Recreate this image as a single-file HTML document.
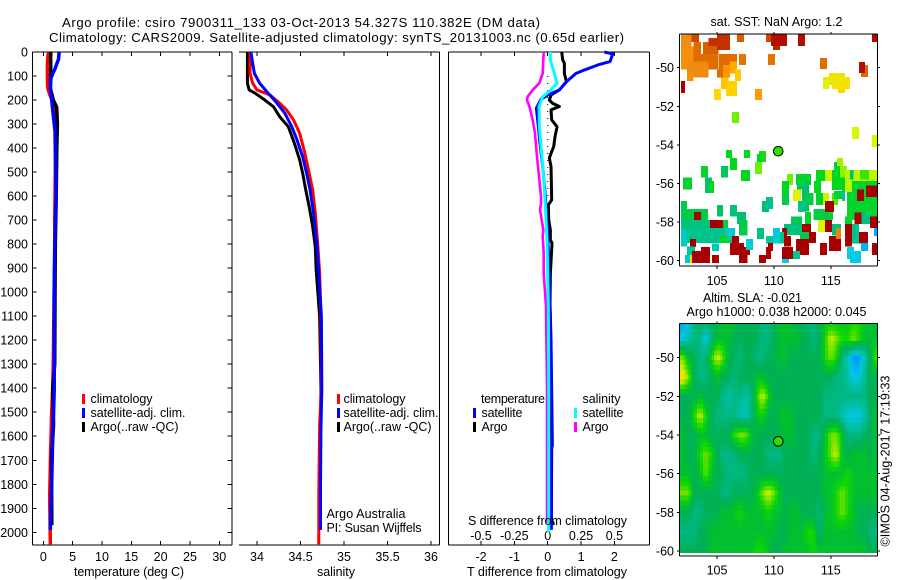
<!DOCTYPE html>
<html lang="en">
<head>
<meta charset="utf-8">
<title>Argo profile 7900311_133</title>
<style>
html,body{margin:0;padding:0;background:#fff;}
svg{display:block;}
text{font-family:"Liberation Sans",sans-serif;font-size:12.5px;fill:#000;}
text.big{font-size:13.2px;}
</style>
</head>
<body>
<svg id="chart" width="900" height="580" viewBox="0 0 900 580" xmlns="http://www.w3.org/2000/svg">
<rect x="0" y="0" width="900" height="580" fill="#fff"/>
<defs>
<clipPath id="clip-sst"><rect x="680" y="34" width="198" height="232"/></clipPath>
<clipPath id="clip-sla"><rect x="680" y="323" width="198" height="230"/></clipPath>
</defs>
<text class="big" x="62" y="27" textLength="478" lengthAdjust="spacing">Argo profile: csiro 7900311_133 03-Oct-2013 54.327S 110.382E (DM data)</text>
<text class="big" x="49" y="42" textLength="575" lengthAdjust="spacing">Climatology: CARS2009. Satellite-adjusted climatology: synTS_20131003.nc (0.65d earlier)</text>

<g id="layer-t"></g>
<g id="layer-s"></g>
<g id="layer-d"></g>
<g id="layer-sst"></g>
<g id="layer-sla"></g>

<text x="74" y="576" textLength="110" lengthAdjust="spacing">temperature (deg C)</text>
<text x="317" y="576" textLength="38" lengthAdjust="spacing">salinity</text>
<text x="467" y="576" textLength="160" lengthAdjust="spacing">T difference from climatology</text>
<text x="468" y="525" textLength="159" lengthAdjust="spacing">S difference from climatology</text>

<g>
<rect x="82" y="394" width="3" height="10" fill="#f00"/>
<text x="90.5" y="403" textLength="62" lengthAdjust="spacing">climatology</text>
<rect x="82" y="408" width="3" height="10" fill="#00f"/>
<text x="90.5" y="417" textLength="95" lengthAdjust="spacing">satellite-adj. clim.</text>
<rect x="82" y="422" width="3" height="10" fill="#000"/>
<text x="90.5" y="431" textLength="88" lengthAdjust="spacing">Argo(..raw -QC)</text>
</g>
<g>
<rect x="337" y="394" width="3" height="10" fill="#f00"/>
<text x="343.5" y="403" textLength="62" lengthAdjust="spacing">climatology</text>
<rect x="337" y="408" width="3" height="10" fill="#00f"/>
<text x="343.5" y="417" textLength="95" lengthAdjust="spacing">satellite-adj. clim.</text>
<rect x="337" y="422" width="3" height="10" fill="#000"/>
<text x="343.5" y="431" textLength="88" lengthAdjust="spacing">Argo(..raw -QC)</text>
</g>
<text x="326.5" y="518" textLength="79" lengthAdjust="spacing">Argo Australia</text>
<text x="326.5" y="532" textLength="95" lengthAdjust="spacing">PI: Susan Wijffels</text>

<g>
<text x="481" y="403" textLength="64" lengthAdjust="spacing">temperature</text>
<rect x="473" y="408" width="3" height="10" fill="#00f"/>
<text x="481.5" y="417" textLength="41" lengthAdjust="spacing">satellite</text>
<rect x="473" y="422" width="3" height="10" fill="#000"/>
<text x="481.5" y="431" textLength="26" lengthAdjust="spacing">Argo</text>
<text x="582.5" y="403" textLength="38" lengthAdjust="spacing">salinity</text>
<rect x="574" y="408" width="3" height="10" fill="#0ff"/>
<text x="582.5" y="417" textLength="41" lengthAdjust="spacing">satellite</text>
<rect x="574" y="422" width="3" height="10" fill="#f0f"/>
<text x="582.5" y="431" textLength="26" lengthAdjust="spacing">Argo</text>
</g>

<text x="710.5" y="26" textLength="132" lengthAdjust="spacing">sat. SST: NaN Argo: 1.2</text>
<text x="703" y="302" textLength="99" lengthAdjust="spacing">Altim. SLA: -0.021</text>
<text x="686.5" y="316" textLength="180" lengthAdjust="spacing">Argo h1000: 0.038 h2000: 0.045</text>
<text transform="translate(889.5 546.5) rotate(-90)" textLength="171" lengthAdjust="spacing">©IMOS 04-Aug-2017 17:19:33</text>
</svg>

<script>
// ---- axis tick values ----
const depthTicks = [0,100,200,300,400,500,600,700,800,900,1000,1100,1200,1300,1400,1500,1600,1700,1800,1900,2000];
const tempTicks = [0,5,10,15,20,25,30];
const salTicks = [34,34.5,35,35.5,36];
const salTickLabels = ['34','34.5','35','35.5','36'];
const tDiffTicks = [-2,-1,0,1,2];
const sDiffTicks = [-0.5,-0.25,0,0.25,0.5];
const sDiffTickLabels = ['-0.5','-0.25','0','0.25','0.5'];
const lonTicks = [105,110,115];
const latTicks = [50,52,54,56,58,60];

// ---- temperature profiles ----
const tClimDepth = [0,50,100,150,180,230,400,700,870,1000,1300,1400,1500,1650,1850,2050];
const tClimValue = [0.85,0.7,0.7,0.75,1.14,2.0,2.1,1.95,1.95,1.85,1.7,1.6,1.43,1.26,1.09,1.2];
const tSatDepth = [0,30,50,70,90,110,150,200,240,280,330,500,600,800,1000,1400,1500,1600,1800,1900,1990];
const tSatValue = [2.7,2.6,2.28,2.0,1.6,1.3,1.2,1.43,1.6,1.77,2.0,2.1,2.2,1.95,1.85,1.87,1.75,1.6,1.43,1.3,1.2];
const tArgoDepth = [0,100,150,200,230,300,400,600,800,1000,1300,1400,1550,1700,1970];
const tArgoValue = [1.26,1.26,1.2,1.7,2.28,2.4,2.3,2.2,2.05,2.0,1.95,1.6,1.75,1.4,1.45];

// ---- salinity profiles ----
const sClimDepth = [0,88,130,158,179,213,241,283,338,421,505,574,671,810,920,1102,1400,1550,1850,2050];
const sClimValue = [33.92,33.92,33.95,34.0,34.15,34.26,34.34,34.42,34.49,34.55,34.6,34.64,34.67,34.7,34.72,34.735,34.74,34.72,34.71,34.71];
const sSatDepth = [0,47,89,130,172,213,255,311,366,436,505,574,671,810,920,1102,1400,1570,1800,1990];
const sSatValue = [33.93,33.95,33.97,34.03,34.13,34.23,34.32,34.4,34.46,34.525,34.57,34.61,34.65,34.69,34.71,34.74,34.745,34.735,34.73,34.73];
const sArgoDepth = [0,130,158,172,200,228,269,311,380,449,505,574,644,727,810,907,1102,1400,1550,1970];
const sArgoValue = [33.89,33.89,33.91,33.98,34.09,34.19,34.26,34.36,34.43,34.49,34.525,34.56,34.6,34.64,34.67,34.68,34.72,34.735,34.73,34.715];

// ---- differences from climatology ----
const dtSatDepth = [0,8,40,54,75,89,123,158,179,197,234,283,394,477,602,755,949,1200,1640,1650,1990];
const dtSatValue = [1.7,1.95,1.87,1.5,1.1,0.85,0.57,0.35,0,-0.2,-0.34,-0.3,-0.22,-0.15,-0.07,0,0.05,0.1,0.14,0.11,0.11];
const dtArgoDepth = [0,33,47,89,123,158,179,200,214,227,241,283,311,352,394,422,442,477,616,637,699,741,782,796,921,1060,1200,1640,1950,1960,1970];
const dtArgoValue = [0.42,0.45,0.5,0.5,0.56,0.35,0.1,0.05,0.15,0.35,0.1,0.12,0.28,0.22,0.18,0.1,0.05,0.1,0.12,0.02,0.03,0.08,0.08,0.13,0.08,0.07,0.09,0.12,0.11,0.16,0.16];
const dsSatDepth = [0,33,89,130,158,186,227,311,505,644,782,1060,1400,2000];
const dsSatValue = [0.02,0.02,0.05,0.07,0.025,-0.0375,-0.065,-0.0625,-0.0325,-0.0175,-0.005,0.005,0.0075,0.0075];
const dsArgoDepth = [0,89,130,158,186,200,227,283,338,422,505,602,630,657,741,768,838,921,1060,1400,1960];
const dsArgoValue = [-0.03,-0.0375,-0.0625,-0.1125,-0.15,-0.155,-0.1375,-0.1125,-0.095,-0.0825,-0.0675,-0.05,-0.05,-0.0575,-0.0325,-0.0375,-0.03,-0.03,-0.0125,-0.005,-0.005];

// ---- satellite SST cells: [lonW, lonE, latN, latS, temperature] ----
const sstCells = [
[101.84,102.78,48.29,48.91,4.6],[102.78,103.42,48.29,48.67,5.5],[101.84,102.95,48.91,50.09,4.4],[102.95,103.6,48.67,49.29,5],
[103.77,105.12,48.67,49.29,5.2],[104.24,105.26,48.46,48.88,5.8],[105,106.14,48.29,49.08,5.8],[102.95,105.12,49.29,50.09,5],
[102.36,104.24,49.69,50.5,4.6],[102.36,102.95,50.2,50.69,4.4],[105.18,106.76,49.29,50.09,5],[105,105.7,50.09,50.5,5],
[105.53,106.14,49.86,50.5,4.2],[106.14,106.76,49.69,50.29,3.8],[106.58,107.1,50.09,50.69,3.4],[105.35,106,50.5,51.1,3.5],
[105.79,106.76,50.69,51.47,3.3],[104.74,105.35,51.1,51.68,3.2],[106.93,107.55,49.29,49.86,4.9],[106.76,107.37,48.29,48.67,5.2],
[108.34,108.95,51.1,51.68,4],[101.84,102.19,50.69,51.31,6.5],[109.48,110.1,49.29,49.86,4.9],[109.3,109.75,48.29,48.67,5.5],
[109.75,111.15,48.29,48.88,6.3],[109.92,110.54,48.88,49.08,6],[112.12,112.73,48.29,48.88,6.3],[114.05,114.67,49.5,50.07,5],
[117.65,118.27,49.86,50.48,5],[117.48,118,49.7,50.28,6.3],[118.62,119.06,48.29,48.67,6.4],[114.31,114.84,50.48,51.1,2.5],
[114.84,116.25,50.28,50.9,3],[115.1,116.69,50.48,51.1,2.9],[115.63,116.25,50.9,51.31,3.2],[106.32,106.93,52.3,52.87,1.7],
[116.86,117.48,53.07,53.7,2.4],[118.62,119.06,53.49,54.11,2.4],
[105.79,106.32,54.27,54.68,1.0],[107.37,107.9,54.27,54.68,1.0],[108.69,109.3,54.32,54.89,1.1],[108.52,108.95,54.47,55.1,0.9],
[108.34,108.95,54.89,55.5,1.7],[106.14,106.76,54.68,55.3,1.0],[105.35,105.97,55.1,55.7,0.6],[103.6,104.2,55.1,55.7,0.9],
[107.1,107.9,55.3,55.87,1.0],[102,102.8,55.7,56.3,0.9],[103.95,104.56,55.7,56.5,0.5],[104.4,104.74,55.87,56.5,1.0],
[111.15,111.68,55.5,56.07,1.7],[110.71,111.33,55.87,56.5,1.0],[110.71,111.33,56.5,57.12,0.8],[111.94,113.26,55.5,56.07,0.9],
[112.03,113.08,55.87,56.3,0.6],[112.47,113.08,56.1,57.45,0.4],[111.68,112.38,56.3,56.9,2.5],[112.9,113.5,56.5,57.12,0.8],
[112.12,112.73,56.9,57.47,0.2],[113.52,114.13,55.87,56.5,1.0],[113.7,115.1,55.3,55.87,1.0],[114.49,115.1,55.3,55.87,2.3],
[113.7,114.3,56.5,57.12,0.9],[114.31,114.84,56.5,57.12,2.3],[115.1,115.63,56.5,57.12,1.5],[115.1,116.25,55.3,56.33,1.0],
[115.28,115.8,54.89,55.3,0.8],[115.54,116.07,54.68,55.1,2.0],[115.8,116.42,55.1,55.7,1.9],[116.25,119.06,55.3,55.87,2.2],
[117.57,118.36,55.3,55.8,1.3],[116.69,116.98,55.3,55.8,0.4],[115.28,116.25,56.4,56.8,0.8],[116,116.25,56.33,56.9,0.2],
[116.42,119.06,55.87,57.9,0.9],[116.25,116.86,55.85,56.45,2.2],[117.3,117.9,56.3,56.9,6.5],[118.1,119.06,56.1,56.7,6.5],
[118.44,119.06,57.7,58.3,6.5],[117.6,118.44,57.5,58.1,0.3],[117.1,117.7,57.5,58.1,6.5],[116.25,116.86,57.7,58.5,0.9],
[116.25,116.86,58.1,59.27,6.5],[116.86,117.48,58.1,59.1,0.2],[117.48,118.27,58.5,59.1,6.5],[118.8,119.06,58.3,58.72,-1],
[118.62,119.06,59.09,59.7,6.5],[117.65,118.27,59.09,59.5,-1],[116.42,117.04,59.3,59.9,-0.5],[116.69,117.65,59.5,60.12,-0.6],
[113.5,114.5,57.32,57.9,0.7],[114.31,115.2,57.32,57.9,0.8],[114.49,115.28,56.9,57.47,6.5],[113.88,114.49,57.9,58.5,2.4],
[114.49,115.1,57.9,58.5,6.5],[115.1,115.9,58.1,58.7,0.3],[114.84,115.9,58.72,59.5,6.5],[115.46,115.9,58.3,58.88,4.7],
[114.05,114.67,59.09,59.7,6.5],[112.73,113.26,57.47,58.1,0.9],[111.5,112.47,57.7,58.3,0.6],[110.9,112.47,58.1,58.67,0.3],
[112.47,113.26,58.1,58.67,6.5],[112.3,113.08,58.5,59.09,0.6],[113.08,113.7,58.5,59.09,6.5],[111.94,113.08,58.87,59.7,6.5],
[110.71,111.15,58.3,58.72,6.5],[110.9,111.5,58.72,59.27,6.5],[110.71,111.68,59.3,59.9,6.5],[111.68,112.3,59.5,59.9,0.2],
[110.71,111.33,59.9,60.12,-0.5],[109.92,110.54,58.3,59.1,-0.4],[110.54,110.9,58.5,59.1,0.2],[109.3,109.92,58.72,59.1,0.1],
[109.48,109.92,59.09,59.5,6.5],[109.3,109.75,59.3,59.9,6.5],[108.69,109.3,59.7,60.12,6.5],[108.52,109.13,58.3,58.88,0.3],
[108.95,109.57,56.9,57.47,0.4],[109.3,109.92,56.7,57.32,0.2],[106.14,106.76,57.12,57.7,0.3],[105,105.53,57.12,57.7,0.5],
[106.76,107.55,57.47,58.1,0.4],[106.93,107.7,57.9,58.7,0.7],[105.53,105.97,57.9,58.3,0.8],[104.4,105.53,57.9,58.5,6.5],
[101.84,102.36,56.9,57.47,0.7],[101.84,104.2,57.32,57.9,0.7],[103,103.6,57.47,58.1,6.5],[101.84,104.4,57.9,58.5,0.3],
[101.84,106.58,58.3,59.09,0.2],[105.7,106.58,58.3,58.9,-0.3],[105.26,106,58.72,59.09,0.9],[101.84,102.36,58.4,59.27,-0.3],
[102.63,103.15,58.88,59.3,6.5],[102.36,103.06,59.27,59.9,0.1],[102.8,104.4,59.5,60.12,6.5],[103.6,104.4,59.3,59.9,6.5],
[102.18,102.63,59.7,60.12,-0.2],[102.63,102.8,59.7,60.12,3],[104.56,105.18,59.1,59.5,-0.1],[104.56,105.18,59.7,60.12,6.5],
[106.14,107.37,59.09,59.7,6.5],[106.32,106.93,58.72,59.09,6.5],[106.93,107.7,59.7,60.12,6.5],[107.37,107.9,59.3,59.7,6.5],
[107.55,108.16,58.88,59.45,-0.4]
];
const sstStopValues = [-1,-0.5,0,0.4,1,1.2,1.7,2.4,3.2,4,4.6,5,5.5,6.5];
const sstStopColors = [[0,176,255],[0,208,224],[0,200,170],[0,192,112],[0,216,32],[48,224,0],[112,240,0],[216,248,0],[255,216,0],[255,156,0],[240,138,16],[224,108,0],[204,72,0],[168,0,0]];
const argoLon = 110.382;
const argoLat = 54.327;
const argoSst = 1.2;

// ---- altimetry SLA grid (level per 0.5 deg lon, 1 deg lat) ----
const slaLats = [48,49,50,51,52,53,54,55,56,57,58,59,60];
const slaLons = [102,102.5,103,103.5,104,104.5,105,105.5,106,106.5,107,107.5,108,108.5,109,109.5,110,110.5,111,111.5,112,112.5,113,113.5,114,114.5,115,115.5,116,116.5,117,117.5,118,118.5,119];
const slaRow48 = [0,1,3,4,4,4,4,5,5,5,4,4,4,4,3,3,4,5,5,5,4,4,3,3,4,5,5,5,5,5,6,6,5,5,5];
const slaRow49 = [1,2,3,3,1,3,5,5,5,4,4,4,4,4,3,3,4,5,5,5,5,4,4,3,4,6,8,7,6,6,7,6,5,5,5];
const slaRow50 = [7,5,4,3,3,6,8,7,4,4,3,4,4,3,3,4,4,5,5,4,4,4,4,4,4,6,7,6,3,2,0,0,2,4,7];
const slaRow51 = [9,7,4,3,3,4,5,4,4,3,4,4,4,5,5,4,4,4,4,4,4,4,4,4,4,4,4,3,3,2,1,1,3,4,4];
const slaRow52 = [4,4,4,5,4,4,4,3,2,3,3,2,3,6,8,6,4,4,4,4,4,4,4,4,4,3,3,3,3,3,3,3,3,4,4];
const slaRow53 = [4,4,6,8,6,4,3,3,3,3,2,2,3,5,6,4,4,5,5,5,4,4,4,4,4,3,3,3,2,1,1,1,2,4,5];
const slaRow54 = [5,4,4,5,5,4,4,4,4,6,7,7,5,4,4,4,4,4,5,5,4,4,4,3,3,5,7,7,5,3,3,3,4,4,5];
const slaRow55 = [5,4,4,6,7,6,4,3,3,3,4,4,4,4,4,3,3,3,4,4,4,4,4,3,4,5,7,8,5,4,5,5,5,4,5];
const slaRow56 = [5,5,4,5,7,5,4,4,3,3,3,3,4,4,4,4,4,4,4,4,4,4,4,4,4,5,5,5,5,6,5,5,5,5,5];
const slaRow57 = [7,7,4,4,4,4,4,3,3,4,4,4,4,5,7,8,7,5,4,4,4,4,4,4,4,5,5,6,7,6,5,5,5,5,5];
const slaRow58 = [4,4,3,3,4,4,4,5,5,5,6,5,5,5,5,6,5,5,4,5,5,4,4,4,3,5,5,6,7,6,5,4,4,4,4];
const slaRow59 = [3,3,3,4,4,5,5,5,5,5,5,5,5,5,5,5,5,4,4,5,5,5,6,6,3,5,5,5,5,5,5,4,4,3,3];
const slaRow60 = [4,4,4,4,4,5,5,5,5,5,5,5,5,6,6,5,4,4,5,5,5,5,5,6,5,5,5,5,5,5,5,5,5,4,4];
const slaRows = [slaRow48,slaRow49,slaRow50,slaRow51,slaRow52,slaRow53,slaRow54,slaRow55,slaRow56,slaRow57,slaRow58,slaRow59,slaRow60];
const slaStopColors = [[0,152,255],[0,200,224],[0,192,176],[0,184,128],[0,176,84],[0,192,48],[16,216,0],[112,224,0],[208,240,0],[255,216,0]];

// ---- helpers ----
const NS = 'http://www.w3.org/2000/svg';
function mk(parent, tag, attrs){
  const el = document.createElementNS(NS, tag);
  for (const k in attrs) el.setAttribute(k, attrs[k]);
  parent.appendChild(el);
  return el;
}
function linear(d0,d1,r0,r1){ return v => r0 + (v-d0)*(r1-r0)/(d1-d0); }
const depthY = linear(0,2000,52,532.3);
const tempX = linear(0,30,43.3,219.3);
const salX = linear(34,36,257,431);
const tDiffX = linear(-2,2,481,614.4);
const sDiffX = linear(-0.5,0.5,481,614.4);
const lonX = linear(105,115,717,830.8);
const latY1 = linear(50,60,67.7,260.7);
const latY2 = linear(50,60,357.7,551);

function axisLine(g, x1, y1, x2, y2, name){
  const l = mk(g,'line',{x1:x1,y1:y1,x2:x2,y2:y2,stroke:'#000','stroke-width':1,'shape-rendering':'crispEdges'});
  
  
  return l;
}
function tickLabel(g, x, y, anchor, str, name){
  const t = mk(g,'text',{x:x,y:y,'text-anchor':anchor});
  t.textContent = str;
  
  
  return t;
}
function drawProfile(g, depths, values, xScale, color, width, name){
  const pts = depths.map((d,i) => xScale(values[i]).toFixed(2)+','+depthY(d).toFixed(2)).join(' ');
  const p = mk(g,'polyline',{points:pts,fill:'none',stroke:color,'stroke-width':width,'stroke-linejoin':'round'});
  
  
}
function drawXAxis(g, ticks, labels, xScale, top, bottom, labelY, name){
  ticks.forEach((v,i) => {
    axisLine(g, xScale(v), top, xScale(v), top+4, name+'-top-tick');
    axisLine(g, xScale(v), bottom-4, xScale(v), bottom, name+'-bottom-tick');
    tickLabel(g, xScale(v), labelY, 'middle', labels[i], name+'-tick-label');
  });
}

// ---- temperature panel ----
const gT = document.getElementById('layer-t');
axisLine(gT,32.5,52,232,52,'temperature-top-axis');
axisLine(gT,32.5,545,232,545,'temperature-bottom-axis');
axisLine(gT,32.5,52,32.5,545,'depth-axis');
axisLine(gT,232,52,232,545,'temperature-right-axis');
depthTicks.forEach(d => {
  axisLine(gT,32.5,depthY(d),36.5,depthY(d),'depth-left-tick');
  axisLine(gT,227.5,depthY(d),232,depthY(d),'depth-right-tick');
  tickLabel(gT,28,depthY(d)+4.5,'end',String(d),'depth-tick-label');
});
drawXAxis(gT,tempTicks,tempTicks.map(String),tempX,52,545,561,'temperature');
drawProfile(gT,tClimDepth,tClimValue,tempX,'#f00',3.5,'temperature-climatology-line');
drawProfile(gT,tArgoDepth,tArgoValue,tempX,'#000',3.5,'temperature-argo-line');
drawProfile(gT,tSatDepth,tSatValue,tempX,'#00f',3.5,'temperature-satellite-line');

// ---- salinity panel ----
const gS = document.getElementById('layer-s');
axisLine(gS,239,52,439.5,52,'salinity-top-axis');
axisLine(gS,239,545,439.5,545,'salinity-bottom-axis');
axisLine(gS,439.5,52,439.5,545,'salinity-right-axis');
drawXAxis(gS,salTicks,salTickLabels,salX,52,545,561,'salinity');
drawProfile(gS,sArgoDepth,sArgoValue,salX,'#000',3,'salinity-argo-line');
drawProfile(gS,sClimDepth,sClimValue,salX,'#f00',3,'salinity-climatology-line');
drawProfile(gS,sSatDepth,sSatValue,salX,'#00f',3,'salinity-satellite-line');

// ---- difference panel ----
const gD = document.getElementById('layer-d');
axisLine(gD,448.5,52,649.5,52,'difference-top-axis');
axisLine(gD,448.5,545,649.5,545,'difference-bottom-axis');
axisLine(gD,448.5,52,448.5,545,'difference-left-axis');
axisLine(gD,649.5,52,649.5,545,'difference-right-axis');
drawXAxis(gD,tDiffTicks,tDiffTicks.map(String),tDiffX,52,545,561,'t-difference');
sDiffTicks.forEach((v,i) => {
  tickLabel(gD,sDiffX(v),540,'middle',sDiffTickLabels[i],'s-difference-tick-label');
});
const zeroLine = mk(gD,'line',{x1:tDiffX(0),y1:depthY(100),x2:tDiffX(0),y2:depthY(620),stroke:'#000','stroke-width':1,'stroke-dasharray':'1 6'});


drawProfile(gD,dtArgoDepth,dtArgoValue,tDiffX,'#000',3,'t-difference-argo-line');
drawProfile(gD,dtSatDepth,dtSatValue,tDiffX,'#00f',3,'t-difference-satellite-line');
drawProfile(gD,dsArgoDepth,dsArgoValue,sDiffX,'#f0f',2.6,'s-difference-argo-line');
drawProfile(gD,dsSatDepth,dsSatValue,sDiffX,'#0ff',3,'s-difference-satellite-line');

// ---- colour lookups ----
function rgb(c){ return 'rgb('+Math.round(c[0])+','+Math.round(c[1])+','+Math.round(c[2])+')'; }
function sstColor(v){
  const n = sstStopValues.length;
  if (v <= sstStopValues[0]) return rgb(sstStopColors[0]);
  if (v >= sstStopValues[n-1]) return rgb(sstStopColors[n-1]);
  let i = 0;
  while (v > sstStopValues[i+1]) i++;
  const f = (v-sstStopValues[i])/(sstStopValues[i+1]-sstStopValues[i]);
  const a = sstStopColors[i], b = sstStopColors[i+1];
  return rgb([a[0]+(b[0]-a[0])*f,a[1]+(b[1]-a[1])*f,a[2]+(b[2]-a[2])*f]);
}
function slaColor(v){
  const m = slaStopColors.length-1;
  const x = Math.max(0,Math.min(m,v));
  const i = Math.min(m-1,Math.floor(x));
  const f = x-i;
  const a = slaStopColors[i], b = slaStopColors[i+1];
  return rgb([a[0]+(b[0]-a[0])*f,a[1]+(b[1]-a[1])*f,a[2]+(b[2]-a[2])*f]);
}

function drawMapFrame(g, latY, top, bottom, labelY, name){
  axisLine(g,679.5,top,877.5,top,name+'-top-edge');
  axisLine(g,679.5,bottom,877.5,bottom,name+'-bottom-edge');
  axisLine(g,679.5,top,679.5,bottom,name+'-left-edge');
  axisLine(g,877.5,top,877.5,bottom,name+'-right-edge');
  lonTicks.forEach(v => {
    axisLine(g,lonX(v),top-2,lonX(v),top,name+'-lon-top-tick');
    axisLine(g,lonX(v),bottom,lonX(v),bottom+3,name+'-lon-bottom-tick');
    tickLabel(g,lonX(v),labelY,'middle',String(v),name+'-lon-tick-label');
  });
  latTicks.forEach(v => {
    axisLine(g,677,latY(v),679.5,latY(v),name+'-lat-left-tick');
    axisLine(g,877.5,latY(v),880,latY(v),name+'-lat-right-tick');
    tickLabel(g,674,latY(v)+4.5,'end','-'+v,name+'-lat-tick-label');
  });
}
function drawMarker(g, latY, value, name){
  const c = mk(g,'circle',{cx:lonX(argoLon),cy:latY(argoLat),r:4.8,fill:sstColor(value),stroke:'#000','stroke-width':1});
  
  
}

// ---- SST map ----
const gSst = document.getElementById('layer-sst');
const gSstCells = mk(gSst,'g',{'clip-path':'url(#clip-sst)'});
sstCells.forEach(cell => {
  const r = mk(gSstCells,'rect',{x:lonX(cell[0]),y:latY1(cell[2]),width:lonX(cell[1])-lonX(cell[0]),height:latY1(cell[3])-latY1(cell[2]),fill:sstColor(cell[4]),'shape-rendering':'crispEdges'});
  
  
});
drawMapFrame(gSst,latY1,34,266,285,'sst-map');
drawMarker(gSst,latY1,argoSst,'argo-position-marker-sst');

// ---- SLA map (bilinear sampling of the grid) ----
function slaAt(lon,lat){
  const fx = Math.max(0,Math.min(slaLons.length-1.001,(lon-slaLons[0])/(slaLons[1]-slaLons[0])));
  const fy = Math.max(0,Math.min(slaLats.length-1.001,(lat-slaLats[0])/(slaLats[1]-slaLats[0])));
  const ix = Math.floor(fx), iy = Math.floor(fy);
  const tx = fx-ix, ty = fy-iy;
  const top = slaRows[iy][ix]*(1-tx)+slaRows[iy][ix+1]*tx;
  const bot = slaRows[iy+1][ix]*(1-tx)+slaRows[iy+1][ix+1]*tx;
  return top*(1-ty)+bot*ty;
}
const gSla = document.getElementById('layer-sla');
const gSlaCells = mk(gSla,'g',{'clip-path':'url(#clip-sla)'});
const slaLonStep = 0.25, slaLatStep = 0.25;
for (let lat = 48.125; lat < 60.14; lat += slaLatStep){
  for (let lon = 101.75; lon < 119.2; lon += slaLonStep){
    const r = mk(gSlaCells,'rect',{x:lonX(lon).toFixed(2),y:latY2(lat).toFixed(2),width:(lonX(lon+slaLonStep)-lonX(lon)+0.4).toFixed(2),height:(latY2(lat+slaLatStep)-latY2(lat)+0.4).toFixed(2),fill:slaColor(slaAt(lon+slaLonStep/2,lat+slaLatStep/2)),'shape-rendering':'crispEdges'});
    
    
  }
}
drawMapFrame(gSla,latY2,323.5,556,574.5,'sla-map');
drawMarker(gSla,latY2,argoSst,'argo-position-marker-sla');
</script>
</body>
</html>
